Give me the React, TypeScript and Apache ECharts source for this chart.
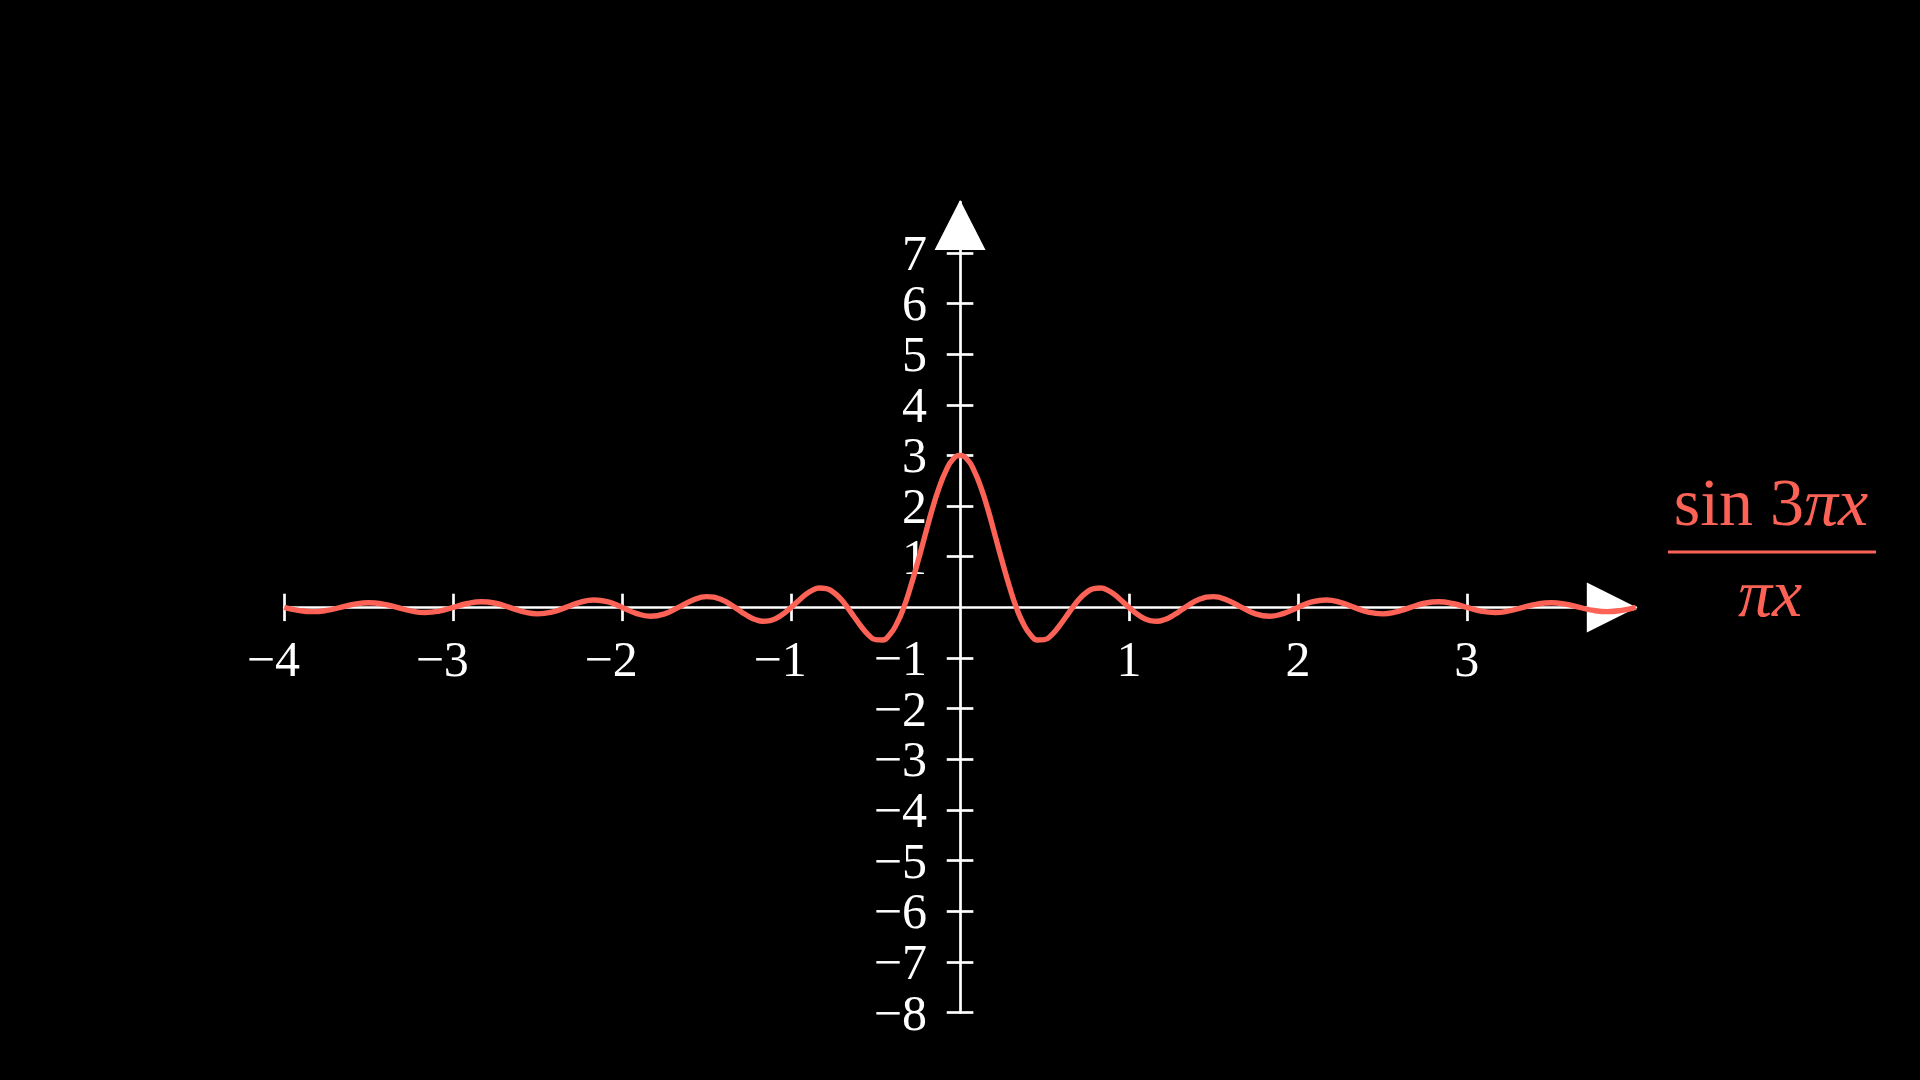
import React, { useEffect, useRef } from "react";
import * as echarts from "echarts";

const RED = "#FC6255";
const WHITE = "#FFFFFF";
const FONT = "'Liberation Serif', 'DejaVu Serif', serif";

const xValues = [
  -4, -3.917, -3.833, -3.75, -3.667, -3.583, -3.5, -3.417, -3.333, -3.25, -3.167, -3.083,
  -3, -2.917, -2.833, -2.75, -2.667, -2.583, -2.5, -2.417, -2.333, -2.25, -2.167, -2.083,
  -2, -1.917, -1.833, -1.75, -1.667, -1.583, -1.5, -1.417,
  -1.333, -1.292, -1.25, -1.208, -1.167, -1.125, -1.083, -1.042,
  -1, -0.958, -0.917, -0.875, -0.833, -0.792, -0.75, -0.708,
  -0.667, -0.625, -0.583, -0.542, -0.5, -0.458, -0.417, -0.375,
  -0.333, -0.292, -0.25, -0.208, -0.167, -0.125, -0.083, -0.042,
  0,
  0.042, 0.083, 0.125, 0.167, 0.208, 0.25, 0.292, 0.333,
  0.375, 0.417, 0.458, 0.5, 0.542, 0.583, 0.625, 0.667,
  0.708, 0.75, 0.792, 0.833, 0.875, 0.917, 0.958, 1,
  1.042, 1.083, 1.125, 1.167, 1.208, 1.25, 1.292, 1.333,
  1.417, 1.5, 1.583, 1.667, 1.75, 1.833, 1.917, 2,
  2.083, 2.167, 2.25, 2.333, 2.417, 2.5, 2.583, 2.667, 2.75, 2.833, 2.917, 3,
  3.083, 3.167, 3.25, 3.333, 3.417, 3.5, 3.583, 3.667, 3.75, 3.833, 3.917, 4,
];

const yValues = [
  0, -0.058, -0.083, -0.06, 0, 0.063, 0.091, 0.066, 0, -0.069, -0.101, -0.073,
  0, 0.077, 0.112, 0.082, 0, -0.087, -0.127, -0.093, 0, 0.1, 0.147, 0.108,
  0, -0.117, -0.174, -0.129, 0, 0.142, 0.212, 0.159,
  0, -0.094, -0.18, -0.243, -0.273, -0.261, -0.208, -0.117,
  0, 0.127, 0.246, 0.336, 0.382, 0.371, 0.3, 0.172,
  0, -0.195, -0.386, -0.543, -0.637, -0.642, -0.54, -0.325,
  0, 0.418, 0.9, 1.412, 1.91, 2.353, 2.701, 2.924,
  3,
  2.924, 2.701, 2.353, 1.91, 1.412, 0.9, 0.418, 0,
  -0.325, -0.54, -0.642, -0.637, -0.543, -0.386, -0.195, 0,
  0.172, 0.3, 0.371, 0.382, 0.336, 0.246, 0.127, 0,
  -0.117, -0.208, -0.261, -0.273, -0.243, -0.18, -0.094, 0,
  0.159, 0.212, 0.142, 0, -0.129, -0.174, -0.117, 0,
  0.108, 0.147, 0.1, 0, -0.093, -0.127, -0.087, 0, 0.082, 0.112, 0.077, 0,
  -0.073, -0.101, -0.069, 0, 0.066, 0.091, 0.063, 0, -0.06, -0.083, -0.058, 0,
];

const xTicks = [-4, -3, -2, -1, 1, 2, 3];
const yTicks = [-8, -7, -6, -5, -4, -3, -2, -1, 1, 2, 3, 4, 5, 6, 7];

const fmtNum = (v: number) => (v < 0 ? "\u2212" + String(-v) : String(v));

// layout
const GRID_LEFT = 284.3;
const GRID_RIGHT = 284.2;
const GRID_TOP = 202.1;
const GRID_BOTTOM = 67.3;
const W = 1920;
const H = 1080;
const gridW = W - GRID_LEFT - GRID_RIGHT;
const gridH = H - GRID_TOP - GRID_BOTTOM;
// axes cross at the origin; the ranges are symmetric, so the origin is the grid centre
const X_AXIS_OFFSET = -gridH / 2;
const Y_AXIS_OFFSET = -gridW / 2;

const FORMULA_SIZE = 68;

export default function App() {
  const ref = useRef<HTMLDivElement>(null);

  useEffect(() => {
    document.body.style.margin = "0";
    document.body.style.background = "#000";
    if (!ref.current) return;
    const chart = echarts.init(ref.current, undefined, { renderer: "svg" });

    const data = xValues.map((x, i) => [x, yValues[i]]);

    const axisLineStyle = { color: WHITE, width: 2.7 };

    const labelText = {
      color: WHITE,
      fontFamily: FONT,
      fontSize: 50,
    };

    chart.setOption({
      animation: false,
      backgroundColor: "#000000",
      grid: {
        left: GRID_LEFT,
        right: GRID_RIGHT,
        top: GRID_TOP,
        bottom: GRID_BOTTOM,
        containLabel: false,
        outerBoundsMode: "none",
      },
      xAxis: [
        {
          type: "value",
          min: -4,
          max: 4,
          position: "bottom",
          offset: X_AXIS_OFFSET,
          axisLine: {
            onZero: false,
            lineStyle: axisLineStyle,
            symbol: ["none", "triangle"],
            symbolSize: [50, 50],
            symbolOffset: [0, -24],
          },
          splitLine: { show: false },
          axisTick: {
            show: true,
            inside: false,
            length: 13.7,
            customValues: xTicks,
            lineStyle: axisLineStyle,
          },
          axisLabel: {
            show: true,
            customValues: xTicks,
            margin: 52,
            verticalAlign: "middle",
            formatter: (v: number) =>
              v < 0 ? `{n|${fmtNum(v)}}` : `{p|${fmtNum(v)}}`,
            rich: {
              n: { ...labelText, padding: [0, 22, 0, 0] },
              p: { ...labelText },
            },
            ...labelText,
          },
        },
        {
          type: "value",
          min: -4,
          max: 4,
          position: "bottom",
          offset: X_AXIS_OFFSET,
          axisLine: {
            show: false,
            onZero: false,
          },
          splitLine: { show: false },
          axisTick: {
            show: true,
            inside: true,
            length: 13.7,
            customValues: xTicks,
            lineStyle: axisLineStyle,
          },
          axisLabel: { show: false },
        },
      ],
      yAxis: [
        {
          type: "value",
          min: -8,
          max: 8,
          position: "left",
          offset: Y_AXIS_OFFSET,
          axisLine: {
            show: true,
            onZero: false,
            lineStyle: axisLineStyle,
            symbol: ["none", "triangle"],
            symbolSize: [51, 50],
            symbolOffset: [0, -23],
          },
          splitLine: { show: false },
          axisTick: {
            show: true,
            inside: false,
            length: 13.3,
            customValues: yTicks,
            lineStyle: axisLineStyle,
          },
          axisLabel: {
            show: true,
            customValues: yTicks,
            margin: 33,
            formatter: (v: number) => fmtNum(v),
            ...labelText,
          },
        },
        {
          type: "value",
          min: -8,
          max: 8,
          position: "left",
          offset: Y_AXIS_OFFSET,
          axisLine: {
            show: false,
            onZero: false,
          },
          splitLine: { show: false },
          axisTick: {
            show: true,
            inside: true,
            length: 13.3,
            customValues: yTicks,
            lineStyle: axisLineStyle,
          },
          axisLabel: { show: false },
        },
      ],
      series: [
        {
          type: "line",
          xAxisIndex: 0,
          yAxisIndex: 0,
          data,
          smooth: 0.5,
          showSymbol: false,
          symbol: "none",
          lineStyle: { color: RED, width: 5.4 },
          z: 5,
        },
      ],
      graphic: [
        {
          type: "text",
          x: 1771,
          y: 502,
          z: 10,
          style: {
            text: "{r|sin 3}{i|\u03C0x}",
            align: "center",
            verticalAlign: "middle",
            fill: RED,
            rich: {
              r: { fontFamily: FONT, fontSize: FORMULA_SIZE, fill: RED, color: RED },
              i: {
                fontFamily: FONT,
                fontSize: FORMULA_SIZE,
                fontStyle: "italic",
                fill: RED,
                color: RED,
              },
            },
          },
        },
        {
          type: "line",
          z: 10,
          shape: { x1: 1668, y1: 552, x2: 1876, y2: 552 },
          style: { stroke: RED, lineWidth: 3 },
        },
        {
          type: "text",
          x: 1770,
          y: 593,
          z: 10,
          style: {
            text: "\u03C0x",
            align: "center",
            verticalAlign: "middle",
            fill: RED,
            fontFamily: FONT,
            fontSize: FORMULA_SIZE,
            fontStyle: "italic",
          },
        },
      ],
    });

    return () => {
      chart.dispose();
    };
  }, []);

  return (
    <div
      ref={ref}
      style={{ width: W + "px", height: H + "px", background: "#000" }}
    />
  );
}
